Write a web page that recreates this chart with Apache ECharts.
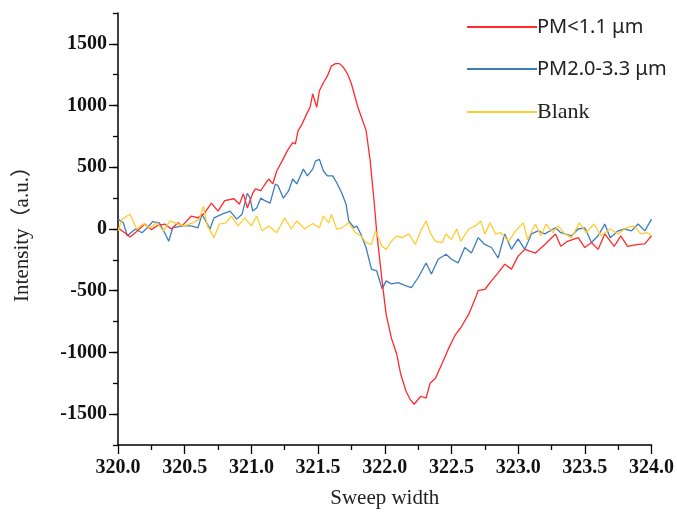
<!DOCTYPE html>
<html>
<head>
<meta charset="utf-8">
<script src="https://cdn.jsdelivr.net/npm/echarts@6/dist/echarts.min.js"></script>
<style>html,body{margin:0;padding:0;background:#fff;}#chart{width:677px;height:515px;}</style>
</head>
<body>
<div id="chart"></div>
<script>
// ---- data ----
const seriesNames = ['PM<1.1 μm', 'PM2.0-3.3 μm', 'Blank'];

const redX = [320.00,320.05,320.09,320.14,320.20,320.25,320.30,320.35,320.40,320.45,320.48,320.55,320.60,320.65,320.70,320.75,320.80,320.87,320.91,320.94,320.97,321.01,321.03,321.07,321.11,321.13,321.16,321.19,321.23,321.27,321.31,321.33,321.35,321.38,321.42,321.44,321.46,321.49,321.51,321.54,321.57,321.60,321.63,321.66,321.69,321.72,321.75,321.80,321.86,321.89,321.92,321.94,321.98,322.01,322.05,322.09,322.12,322.16,322.19,322.22,322.27,322.31,322.34,322.38,322.43,322.48,322.53,322.57,322.63,322.68,322.70,322.75,322.80,322.85,322.90,322.95,323.00,323.05,323.13,323.20,323.28,323.32,323.37,323.45,323.50,323.55,323.60,323.65,323.72,323.77,323.82,323.90,323.95,324.00];
const redY = [10,-30,-65,-20,40,-5,30,40,0,50,25,105,90,130,210,145,230,245,200,285,170,290,325,310,375,405,365,470,550,635,700,690,795,850,945,985,1095,985,1120,1185,1240,1320,1340,1340,1310,1258,1177,982,800,560,227,-30,-420,-690,-885,-1015,-1177,-1315,-1380,-1420,-1355,-1370,-1250,-1210,-1090,-965,-855,-800,-690,-560,-500,-490,-420,-355,-285,-325,-220,-165,-195,-125,-40,-140,-100,-70,-150,-110,-165,-40,-140,-55,-140,-125,-120,-55];

const blueX = [320.00,320.04,320.07,320.13,320.18,320.22,320.26,320.31,320.35,320.38,320.41,320.48,320.55,320.60,320.63,320.69,320.72,320.78,320.84,320.89,320.93,320.97,320.99,321.01,321.04,321.07,321.10,321.14,321.18,321.20,321.24,321.28,321.31,321.34,321.39,321.42,321.46,321.48,321.51,321.54,321.57,321.61,321.64,321.68,321.71,321.73,321.77,321.79,321.82,321.86,321.90,321.94,321.98,322.01,322.05,322.10,322.16,322.20,322.25,322.31,322.35,322.40,322.46,322.50,322.55,322.60,322.65,322.70,322.75,322.80,322.85,322.90,322.95,323.00,323.05,323.10,323.15,323.20,323.28,323.32,323.40,323.45,323.50,323.55,323.60,323.65,323.69,323.75,323.80,323.85,323.90,323.95,324.00];
const blueY = [80,50,-55,0,-30,10,60,50,-30,-100,10,25,25,10,120,0,90,120,145,80,120,290,250,145,170,250,230,210,365,350,250,310,405,365,485,430,485,550,565,470,430,430,375,285,200,65,10,25,-40,-150,-325,-340,-485,-420,-445,-435,-460,-475,-395,-275,-365,-245,-205,-245,-275,-150,-195,-70,-125,-150,-235,-40,-165,-80,-165,-40,-15,-40,10,-30,-55,0,10,-110,-55,40,-70,-15,0,-15,40,-15,80];

const blankX = [320.00,320.03,320.09,320.14,320.19,320.24,320.29,320.34,320.39,320.45,320.50,320.56,320.61,320.64,320.67,320.72,320.76,320.81,320.85,320.90,320.95,321.00,321.04,321.08,321.13,321.19,321.25,321.30,321.34,321.40,321.46,321.51,321.54,321.58,321.60,321.64,321.68,321.73,321.78,321.82,321.86,321.90,321.93,321.98,322.01,322.05,322.09,322.13,322.18,322.23,322.27,322.31,322.34,322.38,322.43,322.46,322.50,322.54,322.57,322.63,322.68,322.72,322.75,322.79,322.83,322.87,322.93,322.98,323.04,323.07,323.13,323.17,323.21,323.26,323.30,323.35,323.40,323.46,323.51,323.57,323.62,323.69,323.75,323.81,323.87,323.92,323.97,324.00];
const blankY = [-15,80,120,0,40,10,50,-15,65,40,25,50,80,185,25,-70,40,50,105,25,90,25,105,-15,25,-30,90,0,65,0,45,10,105,50,120,0,10,50,-30,-55,-110,-125,-15,-140,-165,-100,-55,-70,-40,-125,-15,65,-30,-100,-110,-40,-85,0,-100,0,25,65,-40,50,-40,-30,-100,-15,50,-85,40,-55,40,-30,25,-40,-70,50,-30,40,-55,0,-40,10,25,-40,-30,-55];

const xMin = 320, xMax = 324, xStep = 0.5;
const yMin = -1750, yMax = 1750, yMinorStep = 250;
const yMajorTicks = [-1500, -1000, -500, 0, 500, 1000, 1500];
const colors = ['#ff2a2a', '#3f7db9', '#ffcc33'];

function pairs(xs, ys) { return xs.map((x, i) => [x, ys[i]]); }

const chart = echarts.init(document.getElementById('chart'), null, {renderer: 'canvas'});
const serif = '"Liberation Serif", "Times New Roman", "Noto Sans CJK SC", serif';
const tickStyle = {color: '#000', width: 1.3};

chart.setOption({
  animation: false,
  backgroundColor: '#fff',
  color: colors,
  grid: {left: 118, right: 23, top: 13, bottom: 70, containLabel: false},
  legend: {
    orient: 'vertical',
    left: 462,
    top: 12,
    itemGap: 22,
    itemWidth: 70,
    itemHeight: 2,
    icon: 'rect',
    data: seriesNames,
    formatter: function (name) {
      return name === 'Blank' ? '{s|' + name + '}' : '{a|' + name + '}';
    },
    textStyle: {
      padding: [0, 0, 0, -5],
      rich: {
        a: {fontFamily: '"Noto Sans", "Liberation Sans", sans-serif', fontSize: 20, color: '#222'},
        s: {fontFamily: serif, fontSize: 22, color: '#222'}
      }
    }
  },
  xAxis: {
    type: 'value',
    min: xMin, max: xMax, interval: xStep,
    name: 'Sweep width',
    nameLocation: 'middle',
    nameGap: 43,
    nameTextStyle: {fontFamily: serif, fontSize: 21, color: '#222'},
    axisLine: {show: true, onZero: false, lineStyle: {color: '#000', width: 1.5}},
    axisTick: {show: true, inside: false, length: 9, lineStyle: tickStyle},
    minorTick: {show: true, splitNumber: 2, length: 5, lineStyle: tickStyle},
    splitLine: {show: false},
    minorSplitLine: {show: false},
    axisLabel: {
      margin: 13,
      fontFamily: serif, fontWeight: 'bold', fontSize: 20, color: '#111',
      formatter: v => v.toFixed(1)
    }
  },
  yAxis: [
    {
      type: 'value',
      min: yMin, max: yMax, interval: yMinorStep,
      position: 'left',
      name: 'Intensity（a.u.）',
      nameLocation: 'middle',
      nameGap: 85,
      nameTextStyle: {fontFamily: serif, fontSize: 21, color: '#222'},
      axisLine: {show: true, onZero: false, lineStyle: {color: '#000', width: 1.5}},
      axisTick: {show: true, inside: false, length: 5, lineStyle: tickStyle},
      splitLine: {show: false},
      axisLabel: {show: false}
    },
    {
      type: 'value',
      min: yMin, max: yMax, interval: yMinorStep,
      position: 'left',
      axisLine: {show: false, onZero: false},
      axisTick: {show: true, inside: false, length: 9, customValues: yMajorTicks, lineStyle: tickStyle},
      splitLine: {show: false},
      axisLabel: {
        show: true, margin: 11, customValues: yMajorTicks,
        fontFamily: serif, fontWeight: 'bold', fontSize: 20, color: '#111',
        formatter: v => String(v)
      }
    }
  ],
  series: [
    {name: seriesNames[0], type: 'line', data: pairs(redX, redY), showSymbol: false, symbol: 'none', lineStyle: {width: 1.3, color: colors[0]}, itemStyle: {color: colors[0]}, z: 3},
    {name: seriesNames[1], type: 'line', data: pairs(blueX, blueY), showSymbol: false, symbol: 'none', lineStyle: {width: 1.3, color: colors[1]}, itemStyle: {color: colors[1]}, z: 2},
    {name: seriesNames[2], type: 'line', data: pairs(blankX, blankY), showSymbol: false, symbol: 'none', lineStyle: {width: 1.3, color: colors[2]}, itemStyle: {color: colors[2]}, z: 4}
  ]
});
</script>
</body>
</html>
